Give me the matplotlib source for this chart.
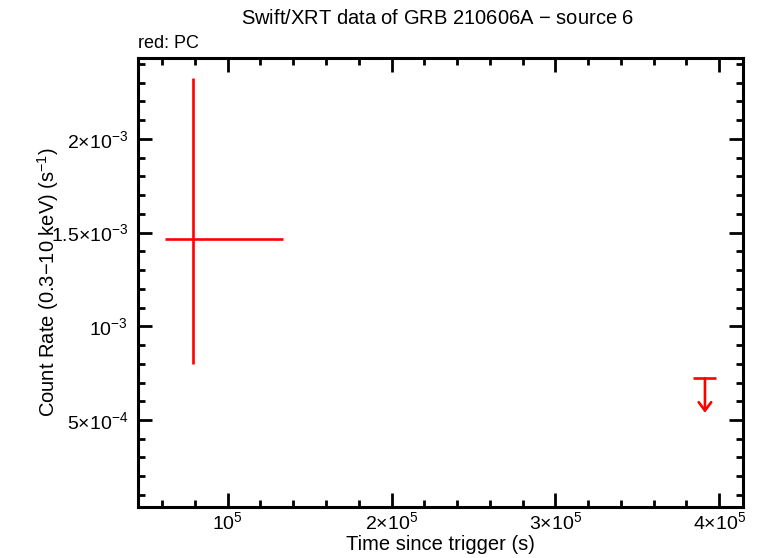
import matplotlib
matplotlib.use('Agg')
import matplotlib.pyplot as plt
from matplotlib.ticker import FixedLocator, MultipleLocator

plt.rcParams['font.family'] = ['Liberation Sans', 'DejaVu Sans']
plt.rcParams['mathtext.fontset'] = 'custom'
plt.rcParams['mathtext.rm'] = 'Liberation Sans'
plt.rcParams['mathtext.it'] = 'Liberation Sans'
plt.rcParams['mathtext.default'] = 'regular'

# --- data (PC mode) ---
pc_time = [79000]
pc_time_lo = [62000]
pc_time_hi = [133500]
pc_rate = [1.465e-3]
pc_rate_lo = [8.0e-4]
pc_rate_hi = [2.327e-3]

# upper limit
ul_time = [391300]
ul_time_lo = [383700]
ul_time_hi = [398000]
ul_rate = [7.23e-4]

x_ticks = [1e5, 2e5, 3e5, 4e5]
x_labels = [r'$10^{5}$', r'$2{\times}10^{5}$', r'$3{\times}10^{5}$', r'$4{\times}10^{5}$']
y_ticks = [5e-4, 1e-3, 1.5e-3, 2e-3]
y_labels = [r'$5{\times}10^{-4}$', r'$10^{-3}$', r'$1.5{\times}10^{-3}$', r'$2{\times}10^{-3}$']

fig = plt.figure(figsize=(7.6, 5.58), dpi=100)
ax = fig.add_axes([0.1816, 0.0919, 0.796, 0.8041])

red = '#ff0000'
xerr = [[t - lo for t, lo in zip(pc_time, pc_time_lo)], [hi - t for t, hi in zip(pc_time, pc_time_hi)]]
yerr = [[r - lo for r, lo in zip(pc_rate, pc_rate_lo)], [hi - r for r, hi in zip(pc_rate, pc_rate_hi)]]
ax.errorbar(pc_time, pc_rate, xerr=xerr, yerr=yerr, fmt='none', ecolor=red, elinewidth=1.9, capsize=0)

ul_xerr = [[t - lo for t, lo in zip(ul_time, ul_time_lo)], [hi - t for t, hi in zip(ul_time, ul_time_hi)]]
ax.errorbar(ul_time, ul_rate, xerr=ul_xerr, fmt='none', ecolor=red, elinewidth=1.9, capsize=0)
for t, r in zip(ul_time, ul_rate):
    ax.annotate('', xy=(t, r * 0.745), xytext=(t, r),
                arrowprops=dict(arrowstyle='->,head_length=0.6,head_width=0.45',
                                color=red, lw=1.9, shrinkA=0, shrinkB=0))

ax.set_xlim(45300, 414500)
ax.set_ylim(3.7e-5, 2.432e-3)

ax.xaxis.set_major_locator(FixedLocator(x_ticks))
ax.set_xticklabels(x_labels)
ax.xaxis.set_minor_locator(MultipleLocator(2e4))
ax.yaxis.set_major_locator(FixedLocator(y_ticks))
ax.set_yticklabels(y_labels)
ax.yaxis.set_minor_locator(MultipleLocator(1e-4))

ax.tick_params(which='both', direction='in', top=True, right=True, width=2, labelsize=14)
ax.tick_params(which='major', length=10)
ax.tick_params(which='minor', length=5)
ax.tick_params(axis='x', which='major', pad=3)
ax.tick_params(axis='y', which='major', pad=7)
for sp in ax.spines.values():
    sp.set_linewidth(2.2)

ax.set_xlabel('Time since trigger (s)', fontsize=14.5)
ax.xaxis.set_label_coords(0.5, -0.063)
ax.set_ylabel(r'Count Rate (0.3$-$10 keV) (s$^{-1}$)', fontsize=14.5)
ax.yaxis.set_label_coords(-0.127, 0.5)

ax.text(0.495, 1.088, r'Swift/XRT data of GRB 210606A $-$ source 6', transform=ax.transAxes,
        ha='center', va='center', fontsize=14.5)
fig.text(0.1816, 0.922, 'red: PC', ha='left', va='center', fontsize=13)

fig.savefig('out.png', dpi=100)
